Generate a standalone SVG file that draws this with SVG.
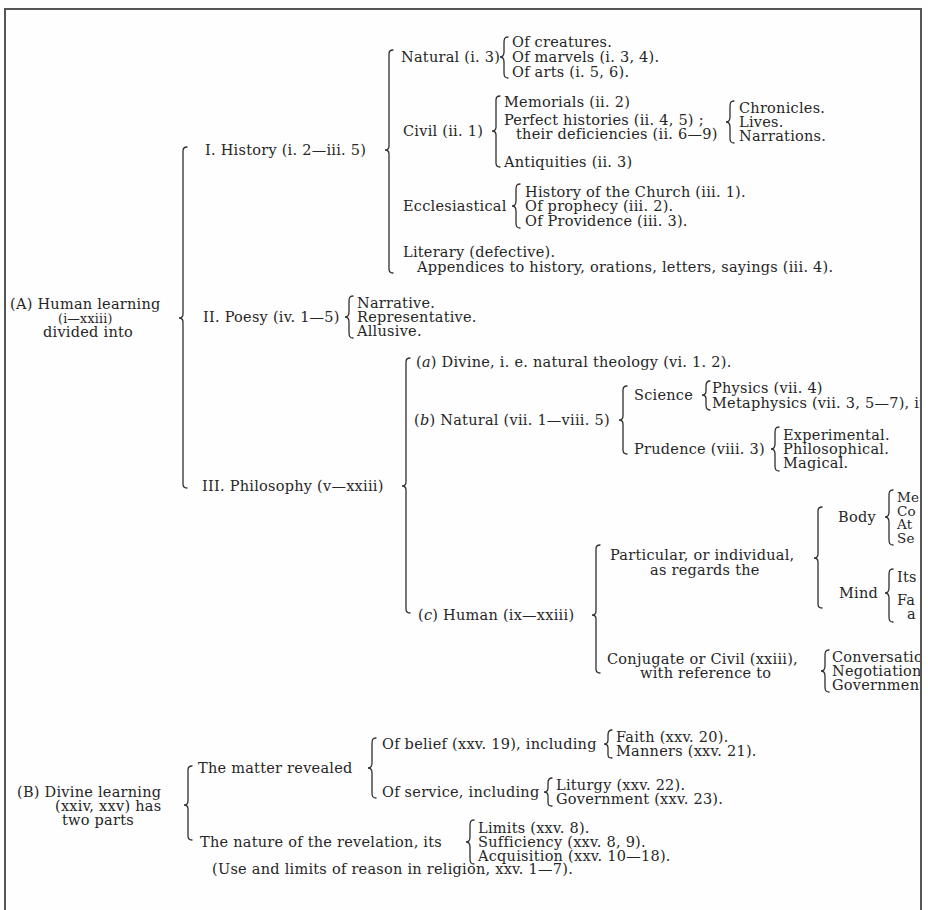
<svg xmlns="http://www.w3.org/2000/svg" width="928" height="910" viewBox="0 0 928 910">
<style>
.t{font-family:"DejaVu Serif","Liberation Serif",serif;font-size:14.5px;letter-spacing:0.25px;fill:#262626}
.s{font-size:12.5px}
.m{font-size:13.5px}
.br{fill:none;stroke:#2e2e2e;stroke-width:1.3;stroke-linecap:round}
.fr{fill:none;stroke:#555;stroke-width:2}
</style>
<defs><clipPath id="cl"><rect x="0" y="0" width="920" height="910"/></clipPath></defs>
<rect width="928" height="910" fill="#fefefe"/>
<path class="fr" d="M5,910 L5,9 L921,9 L921,910"/>
<g id="connectors">
<path class="br" d="M187,147 Q183,147 183,151 L183,314 Q183,318 179,318 Q183,318 183,322 L183,484 Q183,488 187,488"/>
<path class="br" d="M393,50 Q389,50 389,54 L389,146 Q389,150 385,150 Q389,150 389,154 L389,269 Q389,273 393,273"/>
<path class="br" d="M508,37 C504.5,37 504,39 504,43 L504,52 C504,55 503,57 500,57 C503,57 504,59 504,62 L504,72 C504,76 504.5,78 508,78"/>
<path class="br" d="M500,96 Q496,96 496,100 L496,127 Q496,131 492,131 Q496,131 496,135 L496,163 Q496,167 500,167"/>
<path class="br" d="M734,101 C730.5,101 730,103 730,107 L730,117 C730,120 729,122 726,122 C729,122 730,124 730,127 L730,137 C730,141 730.5,143 734,143"/>
<path class="br" d="M520,184 C516.5,184 516,186 516,190 L516,201 C516,204 515,206 512,206 C515,206 516,208 516,211 L516,222 C516,226 516.5,228 520,228"/>
<path class="br" d="M353,296 C349.5,296 349,298 349,302 L349,312 C349,315 348,317 345,317 C348,317 349,319 349,322 L349,332 C349,336 349.5,338 353,338"/>
<path class="br" d="M410,358 Q406,358 406,362 L406,482 Q406,486 402,486 Q406,486 406,490 L406,609 Q406,613 410,613"/>
<path class="br" d="M627,386 Q623,386 623,390 L623,416 Q623,420 619,420 Q623,420 623,424 L623,450 Q623,454 627,454"/>
<path class="br" d="M710,381 C706.5,381 706,383 706,386 L706,391 C706,393 705,395 702,395 C705,395 706,397 706,399 L706,405 C706,408 706.5,410 710,410"/>
<path class="br" d="M779,427 C775.5,427 775,429 775,433 L775,444 C775,447 774,449 771,449 C774,449 775,451 775,454 L775,465 C775,469 775.5,471 779,471"/>
<path class="br" d="M600,545 Q596,545 596,549 L596,611 Q596,615 592,615 Q596,615 596,619 L596,669 Q596,673 600,673"/>
<path class="br" d="M822,507 Q818,507 818,511 L818,554 Q818,558 814,558 Q818,558 818,562 L818,604 Q818,608 822,608"/>
<path class="br" d="M893,490 C889.5,490 889,492 889,496 L889,512 C889,515 888,517 885,517 C888,517 889,519 889,522 L889,539 C889,543 889.5,545 893,545"/>
<path class="br" d="M893,569 C889.5,569 889,571 889,575 L889,588 C889,591 888,593 885,593 C888,593 889,595 889,598 L889,616 C889,620 889.5,622 893,622"/>
<path class="br" d="M829,650 C825.5,650 825,652 825,656 L825,666 C825,669 824,671 821,671 C824,671 825,673 825,676 L825,686 C825,690 825.5,692 829,692"/>
<path class="br" d="M192,766 Q188,766 188,770 L188,801 Q188,805 184,805 Q188,805 188,809 L188,836 Q188,840 192,840"/>
<path class="br" d="M376,738 C372.5,738 372,740 372,744 L372,763 C372,766 371,768 368,768 C371,768 372,770 372,773 L372,792 C372,796 372.5,798 376,798"/>
<path class="br" d="M612,730 C608.5,730 608,732 608,735 L608,740 C608,742 607,744 604,744 C607,744 608,746 608,748 L608,754 C608,757 608.5,758 612,758"/>
<path class="br" d="M552,778 C548.5,778 548,780 548,783 L548,788 C548,790 547,792 544,792 C547,792 548,794 548,796 L548,802 C548,805 548.5,806 552,806"/>
<path class="br" d="M474,820 C470.5,820 470,822 470,826 L470,837 C470,840 469,842 466,842 C469,842 470,844 470,847 L470,858 C470,862 470.5,864 474,864"/>
</g>
<g id="human-learning"><text class="t" x="10" y="309">(A) Human learning</text><text class="t s" x="58" y="323">(i—xxiii)</text><text class="t" x="43" y="337">divided into</text></g>
<g id="history"><text class="t" x="205" y="155">I. History (i. 2—iii. 5)</text></g>
<g id="natural-history"><text class="t" x="401" y="62">Natural (i. 3)</text></g>
<g id="natural-items"><text class="t" x="512" y="47">Of creatures.</text><text class="t" x="512" y="62">Of marvels (i. 3, 4).</text><text class="t" x="512" y="77">Of arts (i. 5, 6).</text></g>
<g id="civil"><text class="t" x="403" y="136">Civil (ii. 1)</text></g>
<g id="memorials"><text class="t" x="504" y="107">Memorials (ii. 2)</text></g>
<g id="perfect"><text class="t" x="504" y="125">Perfect histories (ii. 4, 5) ;</text><text class="t" x="516" y="139">their deficiencies (ii. 6—9)</text></g>
<g id="perfect-items"><text class="t" x="739" y="113">Chronicles.</text><text class="t" x="739" y="127">Lives.</text><text class="t" x="739" y="141">Narrations.</text></g>
<g id="antiquities"><text class="t" x="504" y="167">Antiquities (ii. 3)</text></g>
<g id="ecclesiastical"><text class="t" x="403" y="211">Ecclesiastical</text></g>
<g id="eccl-items"><text class="t" x="525" y="197">History of the Church (iii. 1).</text><text class="t" x="525" y="211">Of prophecy (iii. 2).</text><text class="t" x="525" y="226">Of Providence (iii. 3).</text></g>
<g id="literary"><text class="t" x="403" y="257">Literary (defective).</text><text class="t" x="417" y="272">Appendices to history, orations, letters, sayings (iii. 4).</text></g>
<g id="poesy"><text class="t" x="203" y="322">II. Poesy (iv. 1—5)</text></g>
<g id="poesy-items"><text class="t" x="357" y="308">Narrative.</text><text class="t" x="357" y="322">Representative.</text><text class="t" x="357" y="336">Allusive.</text></g>
<g id="philosophy"><text class="t" x="202" y="491">III. Philosophy (v—xxiii)</text></g>
<g id="divine-phil"><text class="t" x="416" y="367">(<tspan font-style="italic">a</tspan>) Divine, i. e. natural theology (vi. 1. 2).</text></g>
<g id="natural-phil"><text class="t" x="414" y="425">(<tspan font-style="italic">b</tspan>) Natural (vii. 1—viii. 5)</text></g>
<g id="science"><text class="t" x="634" y="400">Science</text></g>
<g id="science-items" clip-path="url(#cl)"><text class="t" x="712" y="393">Physics (vii. 4)</text><text class="t" x="712" y="408">Metaphysics (vii. 3, 5—7), in</text></g>
<g id="prudence"><text class="t" x="634" y="454">Prudence (viii. 3)</text></g>
<g id="prudence-items"><text class="t" x="783" y="440">Experimental.</text><text class="t" x="783" y="454">Philosophical.</text><text class="t" x="783" y="468">Magical.</text></g>
<g id="human-phil"><text class="t" x="418" y="620">(<tspan font-style="italic">c</tspan>) Human (ix—xxiii)</text></g>
<g id="particular"><text class="t" x="610" y="560">Particular, or individual,</text><text class="t" x="650" y="575">as regards the</text></g>
<g id="body"><text class="t" x="838" y="522">Body</text></g>
<g id="body-items" clip-path="url(#cl)"><text class="t m" x="897" y="502">Me</text><text class="t m" x="897" y="515.5">Co</text><text class="t m" x="897" y="529">At</text><text class="t m" x="897" y="542.5">Se</text></g>
<g id="mind"><text class="t" x="839" y="598">Mind</text></g>
<g id="mind-items" clip-path="url(#cl)"><text class="t" x="897" y="582">Its</text><text class="t" x="897" y="605">Fa</text><text class="t" x="907" y="619">a</text></g>
<g id="conjugate"><text class="t" x="607" y="664">Conjugate or Civil (xxiii),</text><text class="t" x="640" y="678">with reference to</text></g>
<g id="conjugate-items" clip-path="url(#cl)"><text class="t" x="832" y="662">Conversation</text><text class="t" x="832" y="676">Negotiation</text><text class="t" x="832" y="690">Government</text></g>
<g id="divine-learning"><text class="t" x="17" y="797">(B) Divine learning</text><text class="t" x="55" y="811">(xxiv, xxv) has</text><text class="t" x="62" y="825">two parts</text></g>
<g id="matter"><text class="t" x="198" y="773">The matter revealed</text></g>
<g id="belief"><text class="t" x="382" y="749">Of belief (xxv. 19), including</text></g>
<g id="belief-items"><text class="t" x="616" y="742">Faith (xxv. 20).</text><text class="t" x="616" y="756">Manners (xxv. 21).</text></g>
<g id="service"><text class="t" x="382" y="797">Of service, including</text></g>
<g id="service-items"><text class="t" x="556" y="790">Liturgy (xxv. 22).</text><text class="t" x="556" y="804">Government (xxv. 23).</text></g>
<g id="nature"><text class="t" x="200" y="847">The nature of the revelation, its</text></g>
<g id="nature-items"><text class="t" x="478" y="833">Limits (xxv. 8).</text><text class="t" x="478" y="847">Sufficiency (xxv. 8, 9).</text><text class="t" x="478" y="861">Acquisition (xxv. 10—18).</text></g>
<g id="reason"><text class="t" x="212" y="874">(Use and limits of reason in religion, xxv. 1—7).</text></g>
</svg>
